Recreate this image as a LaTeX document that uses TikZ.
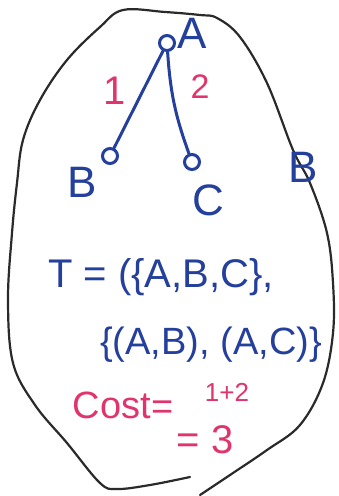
\documentclass[tikz,border=0pt]{standalone}
\usepackage{fontspec}
\setmainfont{Liberation Sans}
\usepackage{xcolor}
\definecolor{ink}{HTML}{24409C}
\definecolor{pen}{HTML}{E0356C}
\definecolor{rim}{HTML}{2A2A2A}
\usepackage{tikz}
\usetikzlibrary{arrows.meta,positioning,calc}
\tikzset{
  vtx/.style={circle,draw=ink,line width=3pt,minimum size=15pt,inner sep=0pt},
  edge/.style={draw=ink,line width=3pt,line cap=round},
  lbl/.style={text=ink,inner sep=0pt,font=\fontsize{44}{44}\selectfont},
  wt/.style={text=pen,inner sep=0pt,font=\fontsize{40}{40}\selectfont},
  txt/.style={text=ink,inner sep=0pt,anchor=west,font=\fontsize{40}{40}\selectfont},
  rtxt/.style={text=pen,inner sep=0pt,font=\fontsize{38}{38}\selectfont},
  rim/.style={draw=rim,line width=2.2pt,line cap=round},
}
\begin{document}
\begin{tikzpicture}[x=1pt,y=-1pt]
\useasboundingbox[fill=white] (0,0) rectangle (339,496);
% outline of the blob
\draw[rim] plot[smooth,tension=0.6] coordinates {(190,477) (150,485) (117,489) (100,483) (67,443)
  (35,405) (13,363) (8,300) (12,233) (17,183) (23,140) (40,100) (67,60) (100,27) (123,10)
  (165,12) (200,15) (217,18) (240,37) (267,83) (293,150) (310,183) (327,233) (333,283)
  (333,333) (323,383) (300,425) (267,450) (233,473) (200,495)};
% tree
\node[vtx] (a) at (167,43) {};
\node[vtx] (b) at (110,156) {};
\node[vtx] (c) at (192,162) {};
\foreach \u/\v/\k in {a/b/0,a/c/8} \draw[edge] (\u) to[bend right=\k] (\v);
\node[lbl] (la) at (192,33) {A};
\node[lbl] (lb) at (82,182) {B};
\node[lbl] (lc) at (208,200) {C};
\node[lbl] (lb2) at (303,167) {B};
\node[wt] (w1) at (115,91) {1};
\node[wt,font=\fontsize{34}{34}\selectfont] (w2) at (200,87) {2};
% the tree as a set
\node[txt] (vset) at (48,277) {T = (\{A,B,C\},};
\node[txt,font=\fontsize{38}{38}\selectfont] (eset) at (100,345) {\{(A,B), (A,C)\}};
\node[rtxt] (cost) at (112,405) {Cost};
\node[rtxt] (eq1) at (163,410) {=};
\node[rtxt,font=\fontsize{26}{26}\selectfont] (sum) at (227,392) {1+2};
\node[rtxt,font=\fontsize{40}{40}\selectfont] (tot) at (205,440) {= 3};
\end{tikzpicture}
\end{document}
